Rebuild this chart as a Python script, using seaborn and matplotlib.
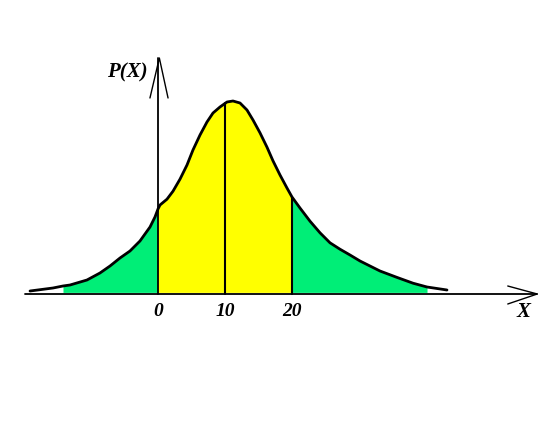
import matplotlib
matplotlib.use("Agg")
from matplotlib import pyplot as plt
import numpy as np
import pandas as pd
import seaborn as sns

# curve (x in units, P(X) on an arbitrary scale)
x_vals = [-19.10, -15.67, -14.18, -13.13, -10.60, -8.66, -7.16, -5.67, -4.18, -2.69,
          -1.19, -0.45, 0.0, 0.30, 1.34, 2.24, 3.28, 4.33, 5.22, 6.27,
          7.31, 8.21, 9.25, 10.30, 11.19, 12.24, 13.28, 14.18, 15.22, 16.27,
          17.16, 18.21, 19.25, 20.0, 21.19, 22.69, 24.18, 25.67, 27.16, 28.66,
          30.15, 31.64, 33.13, 35.67, 38.06, 40.15, 43.13]
p_vals = [0.00075, 0.0015, 0.002, 0.00225, 0.0035, 0.00525, 0.007, 0.009, 0.01075, 0.01325,
          0.01675, 0.01925, 0.02125, 0.02225, 0.0237, 0.0257, 0.0287, 0.03225, 0.036, 0.03975,
          0.043, 0.04525, 0.04675, 0.048, 0.04825, 0.04775, 0.046, 0.0435, 0.0403, 0.0367,
          0.0333, 0.02975, 0.0265, 0.02425, 0.0215, 0.0182, 0.0153, 0.0128, 0.0112, 0.00975,
          0.00825, 0.007, 0.00575, 0.00415, 0.0027, 0.00175, 0.001]

tick_values = [0, 10, 20]
tick_labels = ['0', '10', '20']

left_tail = (-14.18, 0)
middle = (0, 20)
right_tail = (20, 40.15)

df = pd.DataFrame({'x': x_vals, 'p': p_vals})

sns.set_theme(style='white')
fig = plt.figure(figsize=(5.56, 4.32), dpi=100)
ax = fig.add_axes([0, 0, 1, 1])
ax.set_xlim(-23.58, 59.4)
ax.set_ylim(-0.0345, 0.0735)
ax.axis('off')

green = '#00EE77'
yellow = '#FFFF00'
gap = 0.0004

for lo, hi, col in [(left_tail[0], left_tail[1], green), (middle[0], middle[1], yellow),
                    (right_tail[0], right_tail[1], green)]:
    seg = df[(df.x >= lo) & (df.x <= hi)]
    ax.fill_between(seg.x, gap, seg.p, color=col, linewidth=0)

sns.lineplot(data=df, x='x', y='p', color='black', linewidth=2, sort=False, ax=ax)

# vertical lines at 10 and 20 up to the curve
for t in tick_values[1:]:
    ax.plot([t, t], [0, np.interp(t, x_vals, p_vals)], color='black', linewidth=1.5)

# hand-drawn axes with open arrow heads
ax.plot([-19.9, 56.6], [0, 0], color='black', linewidth=1.3)
ax.plot([52.2, 56.6, 52.2], [0.002, 0, -0.0025], color='black', linewidth=1)
ax.plot([0, 0], [0, 0.059], color='black', linewidth=1.3)
ax.plot([-1.2, 0.2, 1.5], [0.049, 0.059, 0.049], color='black', linewidth=1)

font = dict(family='Liberation Serif', fontweight='bold', fontstyle='italic', color='black')
for t, lab in zip(tick_values, tick_labels):
    ax.text(t, -0.0043, lab, ha='center', va='center', fontsize=14, **font)
ax.text(54.5, -0.0045, 'X', ha='center', va='center', fontsize=15, **font)
ax.text(-4.6, 0.0555, 'P(X)', ha='center', va='center', fontsize=15, **font)

fig.savefig('out.png', dpi=100)
